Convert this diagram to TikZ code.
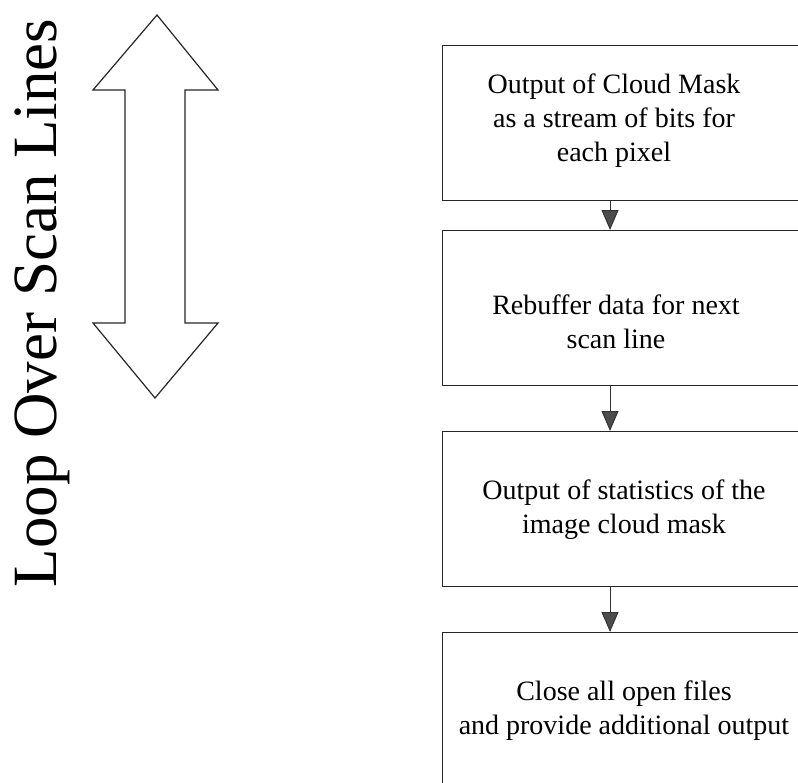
\documentclass[tikz,border=0pt]{standalone}
\usepackage{fontspec}
\setmainfont{Liberation Serif}
\usetikzlibrary{arrows.meta}
\tikzset{
  stepbox/.style={draw=black!85, line width=1.3pt, fill=white,
    minimum width=370pt, minimum height=155pt, inner sep=0pt, anchor=north west},
  boxtext/.style={align=center, font=\fontsize{28}{34}\selectfont, inner sep=0pt},
  flow/.style={draw=black!80, line width=1pt,
    -{Triangle[width=17pt,length=20pt,fill=black!70]}},
  loopshape/.style={draw=black!85, line width=1.2pt, line join=miter, fill=white},
}
\begin{document}
\begin{tikzpicture}[x=1pt,y=-1pt]
  \useasboundingbox (0,0) rectangle (798,782);
  \clip (0,0) rectangle (798,782);

  % loop label and double-headed arrow
  \node[rotate=90, anchor=base, inner sep=0pt,
        font=\fontsize{63}{70}\selectfont] (looplabel) at (56,303) {Loop Over Scan Lines};
  \draw[loopshape] (157,15) -- (218,90) -- (185,90) -- (185,323) -- (218,323)
    -- (155,398) -- (93,323) -- (125,323) -- (125,90) -- (93,90) -- cycle;

  % process boxes
  \node[stepbox] (b1) at (442,45)  {};
  \node[stepbox] (b2) at (442,230) {};
  \node[stepbox] (b3) at (442,431) {};
  \node[stepbox] (b4) at (442,632) {};

  \node[boxtext] (t1) at (614,121) {Output of Cloud Mask\\as a stream of bits for\\each pixel};
  \node[boxtext] (t2) at (616,322) {Rebuffer data for next\\scan line};
  \node[boxtext] (t3) at (624,510) {Output of statistics of the\\image cloud mask};
  \node[boxtext] (t4) at (624,711) {Close all open files\\and provide additional output};

  % connectors
  \coordinate (ax) at (610,0);
  \draw[flow] (b1.south -| ax) -- (b2.north -| ax);
  \draw[flow] (b2.south -| ax) -- (b3.north -| ax);
  \draw[flow] (b3.south -| ax) -- (b4.north -| ax);
\end{tikzpicture}
\end{document}
